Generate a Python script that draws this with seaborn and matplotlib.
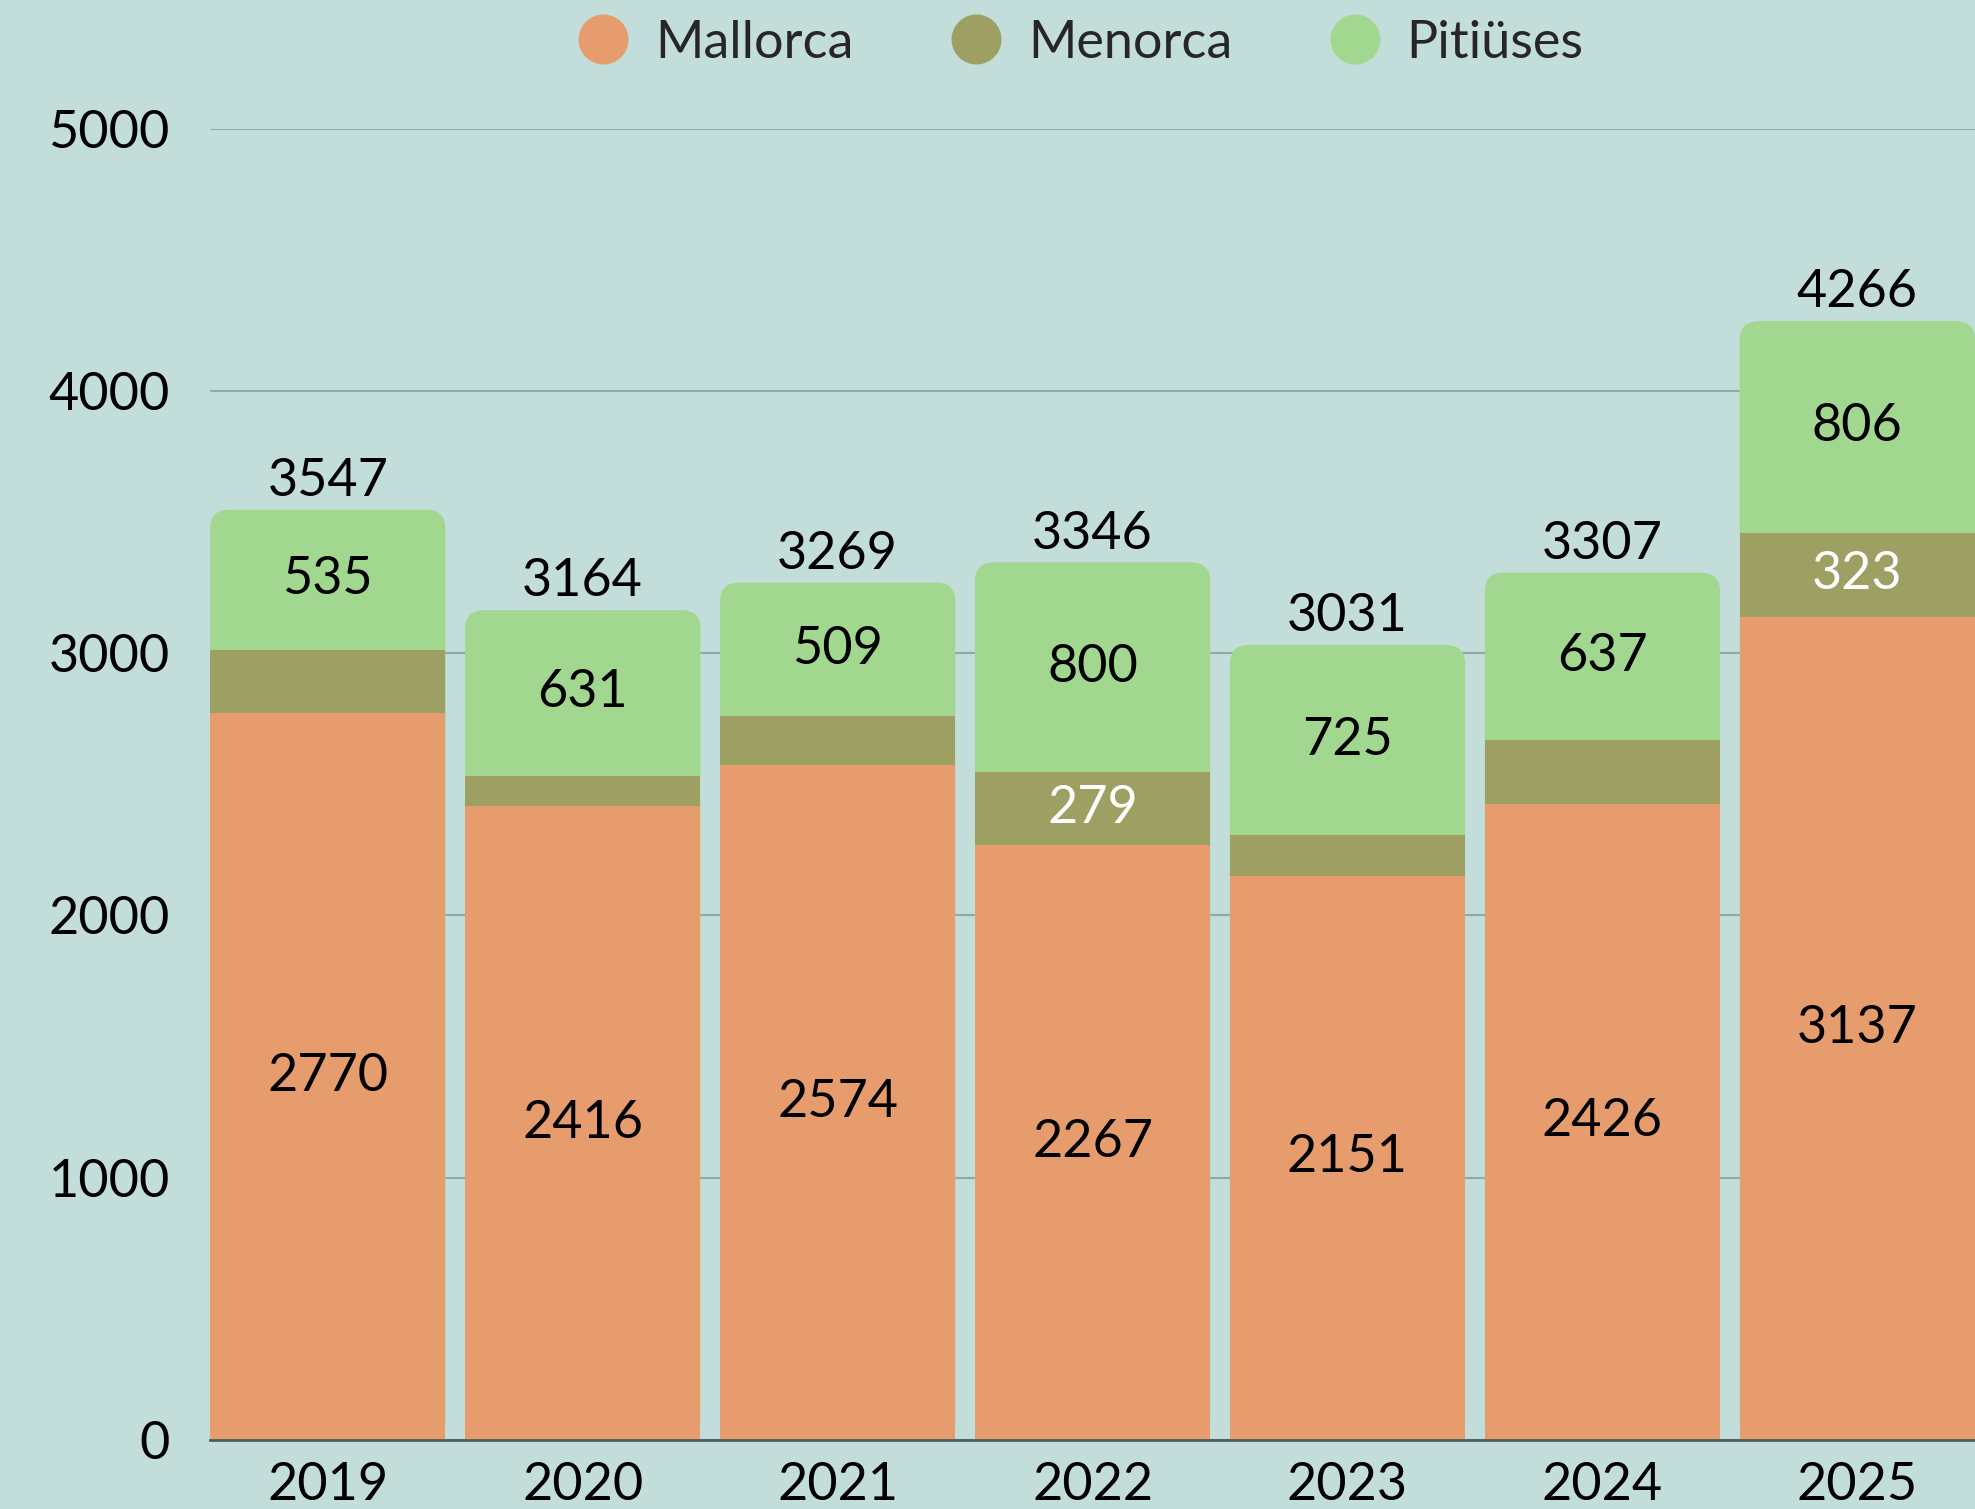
import pandas as pd
import matplotlib.pyplot as plt
import seaborn as sns
from matplotlib.patches import FancyBboxPatch
from matplotlib.lines import Line2D

# Dades
years = ['2019', '2020', '2021', '2022', '2023', '2024', '2025']
mallorca = [2770, 2416, 2574, 2267, 2151, 2426, 3137]
menorca = [242, 117, 186, 279, 155, 244, 323]
pitiuses = [535, 631, 509, 800, 725, 637, 806]

df = pd.DataFrame({'year': years, 'Mallorca': mallorca, 'Menorca': menorca, 'Pitiüses': pitiuses})
df['mm'] = df['Mallorca'] + df['Menorca']
df['total'] = df['mm'] + df['Pitiüses']

bg = '#C3DEDA'
c_mall = '#E79C6E'
c_men = '#9DA062'
c_pit = '#A2D790'

sns.set_theme(style='white', rc={'figure.facecolor': bg, 'axes.facecolor': bg})
plt.rcParams['font.family'] = ['Lato', 'DejaVu Sans']

fig, ax = plt.subplots(figsize=(19.75, 15.09), dpi=100)
fig.subplots_adjust(left=0.1064, right=1.0, bottom=0.0457, top=0.9148)

bw = 0.923
kw = dict(width=bw, saturation=1, ax=ax, zorder=1, edgecolor='none', linewidth=0)
sns.barplot(data=df, x='year', y='total', color=c_pit, **kw)
n_green = len(ax.patches)
sns.barplot(data=df, x='year', y='mm', color=c_men, **kw)
sns.barplot(data=df, x='year', y='Mallorca', color=c_mall, **kw)

# cantonades arrodonides a dalt
for p in ax.patches[:n_green]:
    x, w, h = p.get_x(), p.get_width(), p.get_height()
    p.set_visible(False)
    ax.add_patch(FancyBboxPatch((x, 0), w, h, boxstyle='round,pad=0,rounding_size=0.075',
                                mutation_aspect=960, fc=c_pit, ec='none', zorder=0.95))

fs = 37.5
for i, row in df.iterrows():
    ax.text(i, row['Mallorca'] / 2, str(row['Mallorca']), ha='center', va='center', fontsize=fs, color='black')
    if row['Menorca'] >= 250:
        ax.text(i, row['Mallorca'] + row['Menorca'] / 2, str(row['Menorca']), ha='center', va='center',
                fontsize=fs, color='white')
    ax.text(i, row['mm'] + row['Pitiüses'] / 2, str(row['Pitiüses']), ha='center', va='center', fontsize=fs, color='black')
    ax.annotate(str(row['total']), (i, row['total']), xytext=(0, 10), textcoords='offset points',
                ha='center', va='baseline', fontsize=fs, color='black', annotation_clip=False)

ax.set_xlim(-bw / 2, len(years) - 1 + bw / 2)
ax.set_ylim(0, 5000)
ax.set_yticks([0, 1000, 2000, 3000, 4000, 5000])
ax.set_xlabel('')
ax.set_ylabel('')
ax.set_axisbelow(True)
ax.yaxis.grid(True, color='#8FA9A6', linewidth=1.5)
ax.tick_params(axis='y', length=0, pad=29, labelsize=fs, colors='black')
ax.tick_params(axis='x', length=0, pad=16, labelsize=fs, colors='black')
for s in ['top', 'right', 'left']:
    ax.spines[s].set_visible(False)
ax.spines['bottom'].set_color('#4B5E5E')
ax.spines['bottom'].set_linewidth(2)

handles = [Line2D([], [], marker='o', linestyle='', markersize=36, markerfacecolor=c, markeredgecolor='none')
           for c in [c_mall, c_men, c_pit]]
fig.legend(handles, ['Mallorca', 'Menorca', 'Pitiüses'], loc='center', bbox_to_anchor=(0.547, 0.9715),
           ncol=3, frameon=False, fontsize=fs, handlelength=1, handletextpad=0.5, columnspacing=1.85)

plt.savefig('out.png', dpi=100, facecolor=bg)
